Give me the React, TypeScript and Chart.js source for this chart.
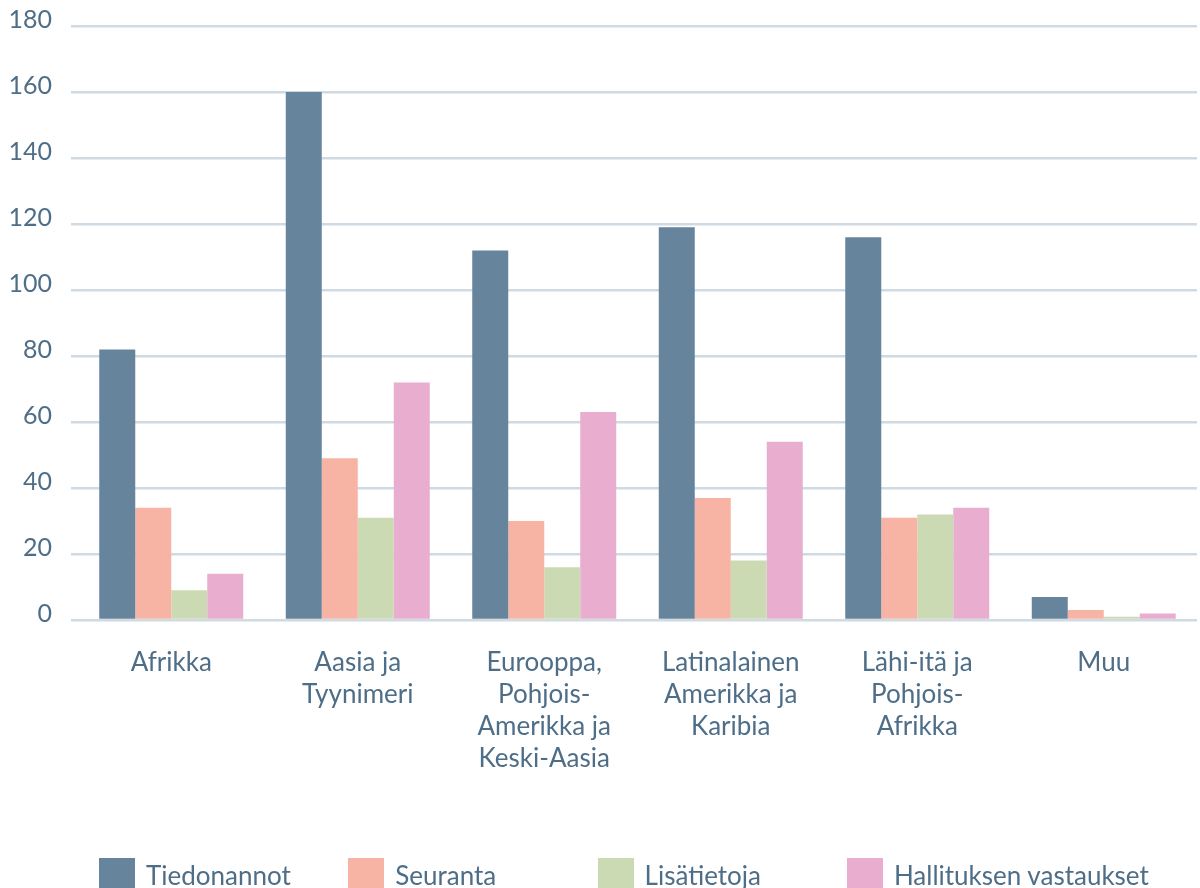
import React, { useEffect, useRef } from "react";
import { Chart, registerables } from "chart.js";

Chart.register(...registerables);

const categories: string[][] = [
  ["Afrikka"],
  ["Aasia ja", "Tyynimeri"],
  ["Eurooppa,", "Pohjois-", "Amerikka ja", "Keski-Aasia"],
  ["Latinalainen", "Amerikka ja", "Karibia"],
  ["Lähi-itä ja", "Pohjois-", "Afrikka"],
  ["Muu"],
];

const seriesNames = ["Tiedonannot", "Seuranta", "Lisätietoja", "Hallituksen vastaukset"];
const tiedonannot = [82, 160, 112, 119, 116, 7];
const seuranta = [34, 49, 30, 37, 31, 3];
const lisatietoja = [9, 31, 16, 18, 32, 1];
const hallitus = [14, 72, 63, 54, 34, 2];
const seriesColors = ["#66849c", "#f7b3a4", "#ccdab3", "#e9adcf"];
const yTicks = [0, 20, 40, 60, 80, 100, 120, 140, 160, 180];

const FONT = "Lato, 'Open Sans', sans-serif";
const TEXT = "#4e6e88";
const GRID = "#d0dae3";

export default function App() {
  const ref = useRef<HTMLCanvasElement | null>(null);

  useEffect(() => {
    document.body.style.margin = "0";
    const values = [tiedonannot, seuranta, lisatietoja, hallitus];
    const chart = new Chart(ref.current as HTMLCanvasElement, {
      type: "bar",
      data: {
        labels: categories,
        datasets: seriesNames.map((name, i) => ({
          label: name,
          data: values[i],
          backgroundColor: seriesColors[i],
          borderWidth: 0,
          categoryPercentage: 0.772,
          barPercentage: 1,
        })),
      },
      options: {
        animation: false,
        responsive: false,
        maintainAspectRatio: false,
        layout: { padding: { top: 26, right: 3, bottom: 86, left: 0 } },
        plugins: { legend: { display: false }, tooltip: { enabled: false } },
        scales: {
          x: {
            grid: { display: false, drawTicks: false, tickLength: 0 },
            border: { display: false },
            ticks: {
              color: TEXT,
              font: { family: FONT, size: 26, lineHeight: "32px" },
              padding: 27,
              maxRotation: 0,
              autoSkip: false,
            },
          },
          y: {
            min: 0,
            max: 180,
            afterBuildTicks: (s: any) => {
              s.ticks = yTicks.map((v) => ({ value: v }));
            },
            afterFit: (s: any) => {
              s.width = 78;
              s.paddingTop = 0;
              s.paddingBottom = 0;
            },
            grid: {
              color: GRID,
              lineWidth: 2.5,
              drawTicks: true,
              tickLength: 7,
              tickColor: GRID,
            },
            border: { display: false },
            ticks: {
              color: TEXT,
              font: { family: FONT, size: 25, lineHeight: "13px" },
              padding: 19,
              callback: (v: any) => [String(v), ""],
            },
          },
        },
      },
    });
    return () => chart.destroy();
  }, []);

  return (
    <div style={{ position: "relative", width: 1200, height: 888, overflow: "hidden", background: "#fff" }}>
      <canvas ref={ref} width={1200} height={888} style={{ position: "absolute", left: 0, top: 0 }} />
      {seriesNames.map((name, i) => (
        <div
          key={name}
          style={{
            position: "absolute",
            left: 99 + i * 249.3,
            top: 858,
            display: "flex",
            alignItems: "flex-start",
          }}
        >
          <div style={{ width: 36, height: 36, background: seriesColors[i] }} />
          <div
            style={{
              marginLeft: 11,
              marginTop: 4,
              fontFamily: FONT,
              fontSize: 26,
              lineHeight: "26px",
              color: TEXT,
              whiteSpace: "nowrap",
            }}
          >
            {name}
          </div>
        </div>
      ))}
    </div>
  );
}
